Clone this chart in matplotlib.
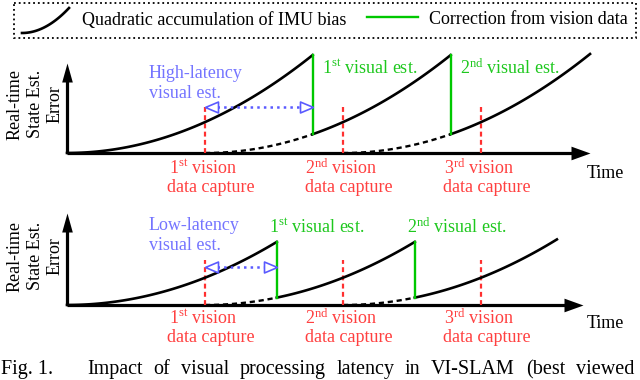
import numpy as np
import matplotlib
matplotlib.use('Agg')
import matplotlib.pyplot as plt
from matplotlib.patches import Rectangle

plt.rcParams['font.family'] = ['Liberation Serif', 'DejaVu Serif']
plt.rcParams['mathtext.fontset'] = 'custom'
plt.rcParams['mathtext.rm'] = 'Liberation Serif'
plt.rcParams['mathtext.it'] = 'Liberation Serif:italic'
plt.rcParams['mathtext.bf'] = 'Liberation Serif:bold'

# ---------------- data ----------------
capture_times = [1.0, 2.0, 3.0]          # vision data capture instants (in capture periods)
ordinals = ['st', 'nd', 'rd']
latency_names = ['High-latency', 'Low-latency']
latencies = [0.78, 0.52]                  # visual processing latency per panel
curve_end = [3.79, 3.55]                  # end of the drawn error curve
time_span = [3.79, 3.74]                  # length of time axis
err_span = [2.91, 3.37]                   # height of error axis
legend_labels = ['Quadratic accumulation of IMU bias', 'Correction from vision data']
ylabel_lines = ['Real-time', 'State Est.', 'Error']
xlabel = 'Time'
caption_head = 'Fig. 1.'
caption_words = 'Impact of visual processing latency in VI-SLAM (best viewed'.split()

# ---------------- style ----------------
W, H = 640, 380
GREEN = '#00c800'
GREEN_T = '#1ec81e'
RED = '#ff3030'
RED_T = '#ff4040'
BLUE = '#5a5aff'
BLUE_T = '#7474ff'
FS = 13

# panel geometry (pixels): origin, px per time unit, px per error unit
panels = [dict(ox=67, oy=153, P=138, K=30.9, red_h=46, arr_h=46,
               green_dx=9, green_dy=85, red_dy=(-15, -34), time_dx=15, time_dy=-20),
          dict(ox=67, oy=305, P=138, K=27.3, red_h=45, arr_h=38,
               green_dx=-8, green_dy=78, red_dy=(-13, -32), time_dx=22, time_dy=-18)]

fig = plt.figure(figsize=(W / 100, H / 100), dpi=100)

up_head = [(0, 0), (-0.28, -1), (0.28, -1), (0, 0)]
right_head = [(0, 0), (-1, 0.36), (-1, -0.36), (0, 0)]
open_left = [(0, 0), (1, 0.42), (1, -0.42), (0, 0)]
open_right = [(0, 0), (-1, 0.42), (-1, -0.42), (0, 0)]
PX2PT = 0.72

for i, g in enumerate(panels):
    P, K = g['P'], g['K']
    xs, ys = time_span[i], err_span[i]
    ax = fig.add_axes([g['ox'] / W, (H - g['oy']) / H, xs * P / W, ys * K / H])
    ax.set_xlim(0, xs)
    ax.set_ylim(0, ys)
    ax.axis('off')

    # axes with arrows
    ax.plot([0, 0], [0, ys - 10 / K], color='black', lw=2.3, solid_capstyle='butt', zorder=2, clip_on=False)
    ax.plot([0, xs - 10 / P], [0, 0], color='black', lw=2.3, solid_capstyle='butt', zorder=2, clip_on=False)
    ax.plot([0], [ys], marker=up_head, ms=2 * 19 * PX2PT, color='black', mew=0, zorder=5, clip_on=False)
    ax.plot([xs], [0], marker=right_head, ms=2 * 19 * PX2PT, color='black', mew=0, zorder=5, clip_on=False)

    lat = latencies[i]
    corr = [c + lat for c in capture_times[:-1]]
    refs = [0.0] + capture_times[:len(corr)]
    bounds = [0.0] + corr + [curve_end[i]]
    # solid error curve (quadratic growth since last applied vision data)
    for k in range(len(bounds) - 1):
        t = np.linspace(bounds[k], bounds[k + 1], 120)
        ax.plot(t, (t - refs[k]) ** 2, color='black', lw=1.9, zorder=4, clip_on=False)
    for k, c in enumerate(corr):
        # dashed: error accumulated since capture
        t = np.linspace(refs[k + 1], c, 60)
        ax.plot(t, (t - refs[k + 1]) ** 2, color='black', lw=1.7, ls=(0, (2.2, 1.6)), zorder=3, clip_on=False)
        # green correction
        ax.plot([c, c], [(c - refs[k + 1]) ** 2, (c - refs[k]) ** 2], color=GREEN, lw=1.7, zorder=4, clip_on=False)
        ax.annotate(f'{k + 1}$^{{\\mathrm{{{ordinals[k]}}}}}$ visual est.', xy=(c, 0),
                    xytext=(g['green_dx'], g['green_dy']), textcoords='offset pixels',
                    ha='left', va='center', color=GREEN_T, fontsize=FS)

    # capture lines and labels
    for k, c in enumerate(capture_times):
        ax.plot([c, c], [0, g['red_h'] / K], color=RED, lw=1.6, ls=(0, (2.2, 1.5)), zorder=3, clip_on=False)
        ax.annotate(f'{k + 1}$^{{\\mathrm{{{ordinals[k]}}}}}$ vision', xy=(c, 0),
                    xytext=(-2, g['red_dy'][0]), textcoords='offset pixels',
                    ha='center', va='center', color=RED_T, fontsize=FS)
        ax.annotate('data capture', xy=(c, 0),
                    xytext=(6, g['red_dy'][1]), textcoords='offset pixels',
                    ha='center', va='center', color=RED_T, fontsize=FS)

    # latency double arrow
    c0, c1 = capture_times[0], corr[0]
    ya = g['arr_h'] / K
    ax.plot([c0 + 12 / P, c1 - 12 / P], [ya, ya], color=BLUE, lw=1.8, ls=':', zorder=5, clip_on=False)
    ax.plot([c0], [ya], marker=open_left, ms=2 * 13 * PX2PT, mfc='white', mec=BLUE, mew=1.2, zorder=6, clip_on=False)
    ax.plot([c1], [ya], marker=open_right, ms=2 * 13 * PX2PT, mfc='white', mec=BLUE, mew=1.2, zorder=6, clip_on=False)
    ax.annotate(latency_names[i], xy=(c0, 0), xytext=(-56, 80), textcoords='offset pixels',
                ha='left', va='center', color=BLUE_T, fontsize=FS)
    ax.annotate('visual est.', xy=(c0, 0), xytext=(-56, 60), textcoords='offset pixels',
                ha='left', va='center', color=BLUE_T, fontsize=FS)

    # axis labels
    ax.annotate(xlabel, xy=(xs, 0), xytext=(g['time_dx'], g['time_dy']), textcoords='offset pixels',
                ha='center', va='center', color='black', fontsize=FS)
    for j, line in enumerate(ylabel_lines):
        ax.annotate(line, xy=(0, 0), xytext=(-52 + 20 * j, 49), textcoords='offset pixels',
                    ha='center', va='center', rotation=90, color='black', fontsize=FS)

# ---------------- legend & caption (pixel overlay) ----------------
ax0 = fig.add_axes([0, 0, 1, 1], zorder=-1)
ax0.set_xlim(0, W)
ax0.set_ylim(H, 0)
ax0.axis('off')
ax0.add_patch(Rectangle((14, 3), 622, 35, fill=False, ec='black', lw=1.3, ls=':'))
tt = np.linspace(0, 1, 50)
ax0.plot(22 + 47 * tt, 33 - 25 * tt ** 2, color='black', lw=1.9)
ax0.text(82, 20, legend_labels[0], ha='left', va='center', fontsize=FS)
ax0.plot([367, 418], [17, 17], color=GREEN, lw=1.7)
ax0.text(429, 20, legend_labels[1], ha='left', va='center', fontsize=FS)

CFS = 14.5
BASE = 374
ax0.text(1, BASE, caption_head, ha='left', va='baseline', fontsize=CFS)
r = fig.canvas.get_renderer()
txts = [ax0.text(0, BASE, w, ha='left', va='baseline', fontsize=CFS) for w in caption_words]
widths = [t.get_window_extent(r).width for t in txts]
gap = (634 - 87 - sum(widths)) / (len(txts) - 1)
x = 87
for t, w in zip(txts, widths):
    t.set_x(x)
    x += w + gap

fig.savefig('out.png', dpi=100)
